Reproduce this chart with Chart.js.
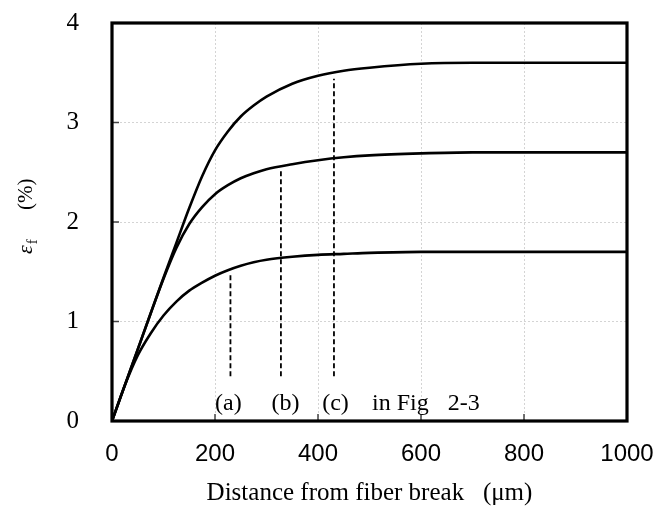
<!DOCTYPE html>
<html>
<head>
<meta charset="utf-8">
<script src="https://cdn.jsdelivr.net/npm/chart.js@4.4.1/dist/chart.umd.min.js"></script>
<style>
  html, body { margin: 0; padding: 0; background: #fff; }
  #wrap { width: 660px; height: 510px; }
</style>
</head>
<body>
<div id="wrap"><canvas id="strainChart" width="660" height="510"></canvas></div>
<script>
// Distancia desde la rotura de la fibra (µm)
const distance = [0, 25, 50, 75, 100, 125, 150, 175, 200, 225, 250, 275, 300, 350, 400, 450, 500, 600, 700, 800, 900, 1000];
// Deformación de la fibra (%) para las tres curvas
const strainHigh = [0, 0.36, 0.72, 1.08, 1.44, 1.79, 2.14, 2.46, 2.72, 2.91, 3.06, 3.17, 3.26, 3.39, 3.47, 3.52, 3.55, 3.59, 3.60, 3.60, 3.60, 3.60];
const strainMid  = [0, 0.36, 0.72, 1.08, 1.43, 1.74, 1.98, 2.15, 2.28, 2.37, 2.44, 2.49, 2.53, 2.58, 2.62, 2.65, 2.67, 2.69, 2.70, 2.70, 2.70, 2.70];
const strainLow  = [0, 0.36, 0.66, 0.88, 1.06, 1.20, 1.31, 1.39, 1.46, 1.515, 1.56, 1.595, 1.62, 1.65, 1.67, 1.68, 1.69, 1.70, 1.70, 1.70, 1.70, 1.70];

// Líneas verticales discontinuas (a), (b), (c)
const markerX = [230, 328, 431];
const markerTop = [1.47, 2.52, 3.44];
const markerBase = 0.45;

// Ticks de los ejes
const xTicks = [0, 200, 400, 600, 800, 1000];
const yTicks = [0, 1, 2, 3, 4];

const serif = '"Liberation Serif", "Times New Roman", serif';
const sans = '"Liberation Sans", Arial, sans-serif';

function toPoints(xs, ys) {
    return xs.map((x, i) => ({ x: x, y: ys[i] }));
}

const curveStyle = {
    borderColor: '#000',
    borderWidth: 2.6,
    pointRadius: 0,
    fill: false,
    cubicInterpolationMode: 'monotone'
};

const datasets = [
    Object.assign({ label: 'high', data: toPoints(distance, strainHigh) }, curveStyle),
    Object.assign({ label: 'mid', data: toPoints(distance, strainMid) }, curveStyle),
    Object.assign({ label: 'low', data: toPoints(distance, strainLow) }, curveStyle)
];

markerX.forEach((x, i) => {
    datasets.push({
        label: 'marker' + i,
        data: [{ x: x, y: markerBase }, { x: x, y: markerTop[i] }],
        borderColor: '#000',
        borderWidth: 1.8,
        borderDash: [5, 3],
        pointRadius: 0,
        fill: false
    });
});

// Caja del gráfico, marcas interiores, título del eje Y y notas
const framePlugin = {
    id: 'frame',
    afterDatasetsDraw(chart) {
        const { ctx, chartArea: a, scales } = chart;
        ctx.save();
        // marcas interiores
        ctx.strokeStyle = '#444';
        ctx.lineWidth = 1.5;
        ctx.beginPath();
        xTicks.slice(1, -1).forEach(v => {
            const px = scales.x.getPixelForValue(v);
            ctx.moveTo(px, a.bottom);
            ctx.lineTo(px, a.bottom - 7);
        });
        yTicks.slice(1, -1).forEach(v => {
            const py = scales.y.getPixelForValue(v);
            ctx.moveTo(a.left, py);
            ctx.lineTo(a.left + 7, py);
        });
        ctx.stroke();
        // caja
        ctx.strokeStyle = '#000';
        ctx.lineWidth = 3.2;
        ctx.strokeRect(a.left, a.top, a.right - a.left, a.bottom - a.top);

        // notas (a) (b) (c) in Fig 2-3
        const noteY = scales.y.getPixelForValue(0.11);
        ctx.fillStyle = '#000';
        ctx.font = '24px ' + serif;
        ctx.textBaseline = 'alphabetic';
        ctx.textAlign = 'center';
        ['(a)', '(b)', '(c)'].forEach((t, i) => {
            ctx.fillText(t, scales.x.getPixelForValue([226, 337, 434][i]), noteY);
        });
        ctx.textAlign = 'left';
        ctx.fillText('in Fig', scales.x.getPixelForValue(505), noteY);
        ctx.fillText('2-3', scales.x.getPixelForValue(652), noteY);
        ctx.restore();
    },
    afterDraw(chart) {
        const { ctx } = chart;
        ctx.save();
        ctx.translate(32, 254);
        ctx.rotate(-Math.PI / 2);
        ctx.fillStyle = '#000';
        ctx.textBaseline = 'alphabetic';
        ctx.textAlign = 'left';
        ctx.font = 'italic 22px ' + serif;
        ctx.fillText('ε', 0, 0);
        const w = ctx.measureText('ε').width;
        ctx.font = '15px ' + serif;
        ctx.fillText('f', w + 1, 5);
        ctx.font = '21px ' + serif;
        ctx.fillText('(%)', 44, 0);
        ctx.restore();
    }
};

const gridStyle = {
    color: '#d4d4d4',
    lineWidth: 1,
    drawTicks: false
};

new Chart(document.getElementById('strainChart'), {
    type: 'line',
    data: { datasets: datasets },
    options: {
        responsive: false,
        animation: false,
        layout: { padding: { left: 0, top: 23, right: 33, bottom: 0 } },
        plugins: {
            legend: { display: false },
            tooltip: { enabled: false }
        },
        scales: {
            x: {
                type: 'linear',
                min: 0,
                max: 1000,
                afterBuildTicks(scale) {
                    scale.ticks = xTicks.map(v => ({ value: v }));
                },
                afterFit(scale) {
                    scale.height = 89;
                    scale.paddingLeft = 0;
                    scale.paddingRight = 0;
                },
                grid: Object.assign({ }, gridStyle),
                border: { display: false, dash: [2, 2] },
                ticks: {
                    color: '#000',
                    font: { family: sans, size: 24 },
                    padding: 19,
                    maxRotation: 0,
                    callback: v => String(v)
                },
                title: {
                    display: true,
                    text: 'Distance from fiber break   (μm)',
                    color: '#000',
                    font: { family: serif, size: 25 },
                    padding: { top: 0, bottom: 2 }
                }
            },
            y: {
                min: 0,
                max: 4,
                afterBuildTicks(scale) {
                    scale.ticks = yTicks.map(v => ({ value: v }));
                },
                afterFit(scale) {
                    scale.width = 112;
                    scale.paddingTop = 0;
                    scale.paddingBottom = 0;
                },
                grid: Object.assign({ }, gridStyle),
                border: { display: false, dash: [2, 2] },
                ticks: {
                    color: '#000',
                    font: { family: serif, size: 25 },
                    padding: 33,
                    callback: v => String(v)
                }
            }
        }
    },
    plugins: [framePlugin]
});
</script>
</body>
</html>
